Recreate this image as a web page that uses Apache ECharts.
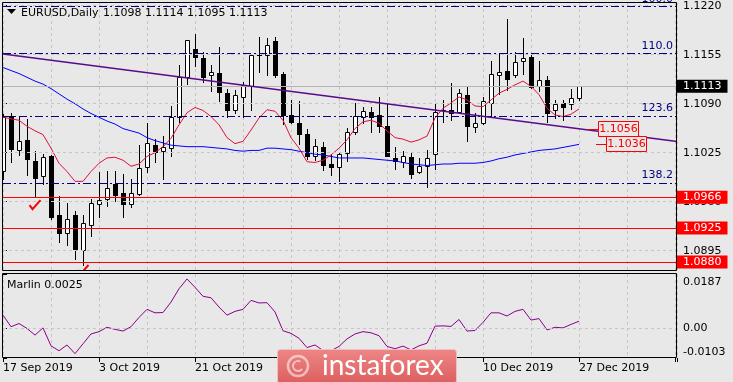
<!DOCTYPE html>
<html><head><meta charset="utf-8">
<script src="https://cdn.jsdelivr.net/npm/echarts@6/dist/echarts.min.js"></script>
<style>html,body{margin:0;padding:0;background:#e8e8e8}#c{width:733px;height:382px}</style>
</head><body><div id="c"></div>
<script>
// ---- data ----
const dateLabels = ['17 Sep 2019','3 Oct 2019','21 Oct 2019','6 Nov 2019','22 Nov 2019','10 Dec 2019','27 Dec 2019'];
const dateLabelBars = [0,12,24,36,48,60,72];
const open  = [1.1001,1.1074,1.1028,1.1042,1.1014,1.0994,1.1021,1.0942,1.0919,1.0942,1.0896,1.0929,1.0957,1.0963,1.0983,1.0972,1.0957,1.0970,1.1006,1.1035,1.1027,1.1031,1.1073,1.1125,1.1163,1.1151,1.1128,1.1131,1.1104,1.1081,1.1099,1.1113,1.1155,1.1155,1.1173,1.1129,1.1075,1.1065,1.1050,1.1021,1.1033,1.1010,1.1006,1.1024,1.1053,1.1072,1.1079,1.1075,1.1060,1.1018,1.1013,1.1019,1.0999,1.1008,1.1023,1.1081,1.1082,1.1079,1.1102,1.1059,1.1064,1.1091,1.1128,1.1133,1.1128,1.1146,1.1152,1.1114,1.1122,1.1081,1.1091,1.1089,1.1098];
const high  = [1.1076,1.1077,1.1074,1.1070,1.1027,1.1023,1.1022,1.0968,1.0958,1.0948,1.0942,1.0964,1.0999,1.1001,1.1001,1.0997,1.0990,1.1035,1.1064,1.1043,1.1047,1.1087,1.1141,1.1175,1.1182,1.1158,1.1141,1.1165,1.1109,1.1108,1.1119,1.1156,1.1178,1.1177,1.1179,1.1132,1.1095,1.1094,1.1056,1.1043,1.1039,1.1022,1.1026,1.1058,1.1091,1.1085,1.1085,1.1099,1.1091,1.1033,1.1027,1.1025,1.1018,1.1029,1.1091,1.1095,1.1117,1.1109,1.1112,1.1077,1.1099,1.1147,1.1157,1.1202,1.1159,1.1177,1.1157,1.1147,1.1127,1.1095,1.1095,1.1110,1.1114];
const low   = [1.0990,1.1013,1.1022,1.0995,1.0967,1.0983,1.0937,1.0907,1.0903,1.0884,1.0876,1.0914,1.0940,1.0954,1.0961,1.0940,1.0953,1.0969,1.1000,1.1013,1.0990,1.1021,1.1066,1.1116,1.1140,1.1119,1.1107,1.1094,1.1073,1.1077,1.1073,1.1081,1.1132,1.1128,1.1125,1.1063,1.1064,1.1037,1.1016,1.1015,1.1002,1.0995,1.0988,1.1014,1.1050,1.1064,1.1053,1.1052,1.1020,1.1004,1.1006,1.0992,1.0998,1.0980,1.1003,1.1066,1.1068,1.1077,1.1040,1.1053,1.1063,1.1072,1.1103,1.1108,1.1125,1.1129,1.1111,1.1107,1.1066,1.1071,1.1068,1.1083,1.1095];
const close = [1.1073,1.1030,1.1041,1.1017,1.0992,1.1019,1.0940,1.0919,1.0937,1.0897,1.0932,1.0958,1.0962,1.0978,1.0969,1.0957,1.0972,1.1005,1.1038,1.1026,1.1032,1.1072,1.1125,1.1174,1.1152,1.1126,1.1132,1.1105,1.1081,1.1101,1.1115,1.1155,1.1154,1.1168,1.1128,1.1075,1.1066,1.1050,1.1021,1.1034,1.1009,1.1006,1.1023,1.1052,1.1074,1.1080,1.1073,1.1060,1.1021,1.1014,1.1021,1.0997,1.1008,1.1018,1.1079,1.1082,1.1077,1.1104,1.1060,1.1064,1.1094,1.1130,1.1132,1.1123,1.1145,1.1150,1.1112,1.1121,1.1078,1.1089,1.1086,1.1098,1.1113];
const maFast = [1.1072,1.1070,1.1068,1.1060,1.1054,1.1049,1.1031,1.1011,1.1000,1.0987,1.0987,1.1000,1.1011,1.1018,1.1019,1.1015,1.1007,1.1010,1.1020,1.1025,1.1033,1.1044,1.1062,1.1078,1.1085,1.1081,1.1073,1.1062,1.1045,1.1037,1.1040,1.1055,1.1071,1.1082,1.1080,1.1068,1.1045,1.1031,1.1013,1.1012,1.1015,1.1022,1.1031,1.1042,1.1057,1.1066,1.1068,1.1064,1.1054,1.1045,1.1043,1.1039,1.1042,1.1047,1.1071,1.1084,1.1091,1.1099,1.1095,1.1087,1.1086,1.1095,1.1104,1.1109,1.1115,1.1120,1.1113,1.1102,1.1084,1.1075,1.1073,1.1076,1.1083];
const maSlow = [1.1138,1.1134,1.1130,1.1125,1.1120,1.1116,1.1110,1.1103,1.1096,1.1090,1.1083,1.1077,1.1072,1.1067,1.1063,1.1057,1.1054,1.1051,1.1045,1.1041,1.1038,1.1035,1.1034,1.1033,1.1033,1.1033,1.1032,1.1031,1.1030,1.1028,1.1027,1.1028,1.1028,1.1031,1.1031,1.1030,1.1029,1.1027,1.1025,1.1023,1.1022,1.1020,1.1018,1.1018,1.1018,1.1018,1.1017,1.1016,1.1015,1.1014,1.1012,1.1010,1.1009,1.1008,1.1009,1.1010,1.1010,1.1011,1.1011,1.1011,1.1012,1.1014,1.1017,1.1019,1.1022,1.1024,1.1026,1.1028,1.1029,1.1030,1.1032,1.1034,1.1036];
const marlin = [0.0045,0.0005,0.0016,-0.0001,-0.0024,0.0001,-0.0061,-0.0078,-0.0058,-0.0088,-0.0054,-0.0020,-0.0012,0.0003,-0.0004,-0.0010,0.0005,0.0037,0.0065,0.0053,0.0054,0.0090,0.0136,0.0170,0.0141,0.0110,0.0105,0.0073,0.0045,0.0058,0.0065,0.0096,0.0087,0.0088,0.0056,-0.0009,-0.0018,-0.0035,-0.0067,-0.0058,-0.0077,-0.0078,-0.0063,-0.0037,-0.0020,-0.0012,-0.0016,-0.0026,-0.0063,-0.0071,-0.0062,-0.0075,-0.0061,-0.0052,0.0007,0.0008,0.0006,0.0030,-0.0010,-0.0008,0.0020,0.0053,0.0053,0.0042,0.0058,0.0065,0.0028,0.0033,-0.0006,0.0003,0.0001,0.0013,0.0024];
const priceTicks = [1.1220,1.1155,1.1090,1.1025,1.0960,1.0895];
const marlinTicks = [0.0187,0,-0.0103];
const fibLevels = [1.1219,1.1157,1.1074,1.0985];
const fibLabels = ['100.0','110.0','123.6','138.2'];
const supportLevels = [1.0966,1.0925,1.0880];
const lastPrice = 1.1113;
const trendX = [0,84.25];
const trendY = [1.1156,1.1040];
const checkX = [4,10];
const checkY = [1.0956,1.0870];
const tagX = [73.1,74.1];
const tagY = [1.1056,1.1036];
const tagText = ['1.1056','1.1036'];
const headerSymbol = 'EURUSD,Daily';
const headerOHLC = '1.1098 1.1114 1.1095 1.1113';
const marlinTitle = 'Marlin 0.0025';

// ---- chart ----
const FONT = '"DejaVu Sans", sans-serif';
const X_MAX = 84.25;
const chart = echarts.init(document.getElementById('c'), null, {renderer:'canvas'});
const gridDash = {color:'#c6c6c6', type:[3,3], width:1};

function candleItem(params, api){
  const k = api.value(0);
  const o = api.coord([k, api.value(1)]), c = api.coord([k, api.value(2)]);
  const l = api.coord([k, api.value(3)]), h = api.coord([k, api.value(4)]);
  const col = Math.floor(o[0] + 1e-6);
  const xm = col + 0.5;
  const yT = Math.round(Math.min(o[1], c[1])), yB = Math.round(Math.max(o[1], c[1]));
  const yH = Math.round(h[1]), yL = Math.round(l[1]);
  const bull = api.value(2) >= api.value(1);
  const ch = [{type:'line', shape:{x1:xm,y1:yH,x2:xm,y2:yL+1}, style:{stroke:'#000',lineWidth:1}}];
  if (bull) ch.push({type:'rect', shape:{x:col-1.5,y:yT+0.5,width:4,height:Math.max(yB-yT,0)}, style:{fill:'#fff',stroke:'#000',lineWidth:1}});
  else ch.push({type:'rect', shape:{x:col-2,y:yT,width:5,height:Math.max(yB-yT+1,1)}, style:{fill:'#000'}});
  return {type:'group', children:ch};
}
function checkItem(params, api){
  const p = api.coord([api.value(0), api.value(1)]);
  return {type:'polyline', shape:{points:[[p[0]-5.5,p[1]+0.5],[p[0]-2.5,p[1]+4.5],[p[0]+5.5,p[1]-4.5]]},
    style:{stroke:'#ff0000',lineWidth:2,fill:null}};
}
function tagItem(params, api){
  const p = api.coord([api.value(0), api.value(1)]);
  const x = Math.round(p[0]), y = Math.round(p[1]);
  return {type:'group', children:[
    {type:'line', shape:{x1:x,y1:y+0.5,x2:x+10,y2:y+0.5}, style:{stroke:'#ff0000',lineWidth:1}},
    {type:'rect', shape:{x:x+10.5,y:y-7.5,width:40,height:15}, style:{fill:'#e8e8e8',stroke:'#ff0000',lineWidth:1}},
    {type:'text', style:{x:x+30.5,y:y+0.5,text:tagText[params.dataIndex],fill:'#ff0000',font:'11px '+FONT,align:'center',verticalAlign:'middle'}}
  ]};
}

const option = {
  animation:false,
  backgroundColor:'#e8e8e8',
  textStyle:{fontFamily:FONT},
  grid:[
    {left:3, top:3, width:674, height:267, show:false},
    {left:3, top:274, width:674, height:84, show:false}
  ],
  xAxis:[
    {gridIndex:0, type:'value', min:0, max:X_MAX, interval:6, axisLine:{show:false}, axisTick:{show:false}, axisLabel:{show:false}, splitLine:{show:true, lineStyle:gridDash}},
    {gridIndex:1, type:'value', min:0, max:X_MAX, interval:6, position:'top', axisLine:{show:false}, axisTick:{show:false}, axisLabel:{show:false}, splitLine:{show:true, lineStyle:gridDash}},
    {gridIndex:1, type:'value', min:0, max:X_MAX, interval:12, position:'bottom', axisLine:{show:false},
      axisTick:{show:true, length:4, lineStyle:{color:'#000'}}, splitLine:{show:false},
      axisLabel:{show:true, margin:5, align:'left', color:'#000', fontSize:11, fontFamily:FONT, showMinLabel:true, showMaxLabel:true,
        formatter:v=>{const i=dateLabelBars.indexOf(Math.round(v)); return (i>=0 && Math.abs(v-Math.round(v))<1e-6)?dateLabels[i]:'';}}}
  ],
  yAxis:[
    {gridIndex:0, type:'value', position:'right', min:1.086938, max:1.122358, axisLine:{show:false}, splitLine:{show:false},
      axisTick:{show:true, length:4, customValues:priceTicks, lineStyle:{color:'#000'}},
      axisLabel:{customValues:priceTicks, margin:6, color:'#000', fontSize:11, fontFamily:FONT, formatter:v=>v.toFixed(4)}},
    {gridIndex:1, type:'value', position:'right', min:-0.0103, max:0.0187, axisLine:{show:false}, splitLine:{show:false},
      axisTick:{show:true, length:4, customValues:marlinTicks, lineStyle:{color:'#000'}},
      axisLabel:{customValues:marlinTicks, margin:6, color:'#000', fontSize:11, fontFamily:FONT,
        verticalAlignMaxLabel:'bottom', verticalAlignMinLabel:'top',
        rich:{t:{padding:[3,0,0,0], fontSize:11, fontFamily:FONT, color:'#000'}},
        formatter:v=>Math.abs(v)<1e-9?'0.00':(v>0?'{t|'+v.toFixed(4)+'}':v.toFixed(4))}}
  ],
  series:[
    {type:'line', xAxisIndex:0, yAxisIndex:0, data:[], z:1, silent:true,
      markLine:{silent:true, precision:6, symbol:'none', label:{show:false}, lineStyle:gridDash, data:priceTicks.map(v=>({yAxis:v}))}},
    {type:'line', xAxisIndex:1, yAxisIndex:1, data:[], z:1, silent:true,
      markLine:{silent:true, precision:6, symbol:'none', label:{show:false}, lineStyle:gridDash, data:[{yAxis:0}]}},
    {type:'line', xAxisIndex:0, yAxisIndex:0, data:[], z:1, silent:true,
      markLine:{silent:true, precision:6, symbol:'none', lineStyle:{color:'#b4b4b4', type:'solid', width:1},
        label:{show:true, position:'end', distance:0, color:'#fff', backgroundColor:'#000', padding:[1,6,1,6], fontSize:11, fontFamily:FONT, formatter:p=>p.value.toFixed(4)},
        data:[{yAxis:lastPrice}]}},
    {type:'line', xAxisIndex:0, yAxisIndex:0, data:[], z:2, silent:true,
      markLine:{silent:true, precision:6, symbol:'none', lineStyle:{color:'#000080', type:[8,3,2,3], width:1},
        label:{show:true, position:'insideEndTop', distance:[4,2], color:'#000080', fontSize:11, fontFamily:FONT, formatter:'{b}'},
        data:fibLevels.map((v,i)=>({yAxis:v, name:fibLabels[i]}))}},
    {type:'line', xAxisIndex:0, yAxisIndex:0, data:[], z:2, silent:true,
      markLine:{silent:true, precision:6, symbol:'none', lineStyle:{color:'#ff0000', type:'solid', width:1},
        label:{show:true, position:'end', distance:0, color:'#fff', backgroundColor:'#ff0000', padding:[1,6,1,6], fontSize:11, fontFamily:FONT, formatter:p=>p.value.toFixed(4)},
        data:supportLevels.map(v=>({yAxis:v}))}},
    {type:'custom', name:'EURUSD', xAxisIndex:0, yAxisIndex:0, z:3, clip:true, renderItem:candleItem,
      encode:{x:0, y:[1,2,3,4]}, data:open.map((o,i)=>[i,o,close[i],low[i],high[i]])},
    {type:'line', xAxisIndex:0, yAxisIndex:0, z:4, showSymbol:false, symbol:'none', silent:true,
      lineStyle:{color:'#0000ff', width:1}, data:maSlow.map((v,i)=>[i,v])},
    {type:'line', xAxisIndex:0, yAxisIndex:0, z:4, showSymbol:false, symbol:'none', silent:true,
      lineStyle:{color:'#e0103a', width:1}, data:maFast.map((v,i)=>[i,v])},
    {type:'line', xAxisIndex:0, yAxisIndex:0, z:5, showSymbol:false, symbol:'none', silent:true, clip:true,
      lineStyle:{color:'#5a0a8a', width:1.5}, data:trendX.map((x,i)=>[x,trendY[i]])},
    {type:'custom', xAxisIndex:0, yAxisIndex:0, z:6, clip:true, renderItem:tagItem, encode:{x:0,y:1}, data:tagX.map((x,i)=>[x,tagY[i]])},
    {type:'custom', xAxisIndex:0, yAxisIndex:0, z:6, clip:true, renderItem:checkItem, encode:{x:0,y:1}, data:checkX.map((x,i)=>[x,checkY[i]])},
    {type:'line', xAxisIndex:1, yAxisIndex:1, z:4, showSymbol:false, symbol:'none', silent:true,
      lineStyle:{color:'#8b008b', width:1}, data:marlin.map((v,i)=>[i,v])}
  ],
  graphic:[
    {type:'rect', z:50, silent:true, shape:{x:2.5,y:2.5,width:674,height:268}, style:{fill:null, stroke:'#000', lineWidth:1}},
    {type:'rect', z:50, silent:true, shape:{x:2.5,y:273.5,width:674,height:84}, style:{fill:null, stroke:'#000', lineWidth:1}},
    {type:'polygon', z:50, silent:true, shape:{points:[[7,9],[16,9],[11.5,14]]}, style:{fill:'#000'}},
    {type:'text', z:50, silent:true, style:{x:21, y:13, text:headerSymbol, font:'11px '+FONT, fill:'#000', verticalAlign:'middle'}},
    {type:'text', z:50, silent:true, style:{x:103, y:13, text:headerOHLC, font:'11px '+FONT, fill:'#000', verticalAlign:'middle'}},
    {type:'text', z:50, silent:true, style:{x:7, y:285, text:marlinTitle, font:'11px '+FONT, fill:'#000', verticalAlign:'middle'}},
    {type:'rect', z:60, silent:true, shape:{x:277.5,y:349.5,width:179,height:34,r:3},
      style:{fill:new echarts.graphic.LinearGradient(0,0,0,1,[{offset:0,color:'#ee8686'},{offset:1,color:'#dc5e5e'}]), stroke:'#f0c0c0', lineWidth:1}},
    {type:'circle', z:61, silent:true, shape:{cx:298,cy:366,r:10}, style:{fill:null, stroke:'rgba(255,255,255,0.55)', lineWidth:2.5}},
    {type:'arc', z:61, silent:true, shape:{cx:298,cy:366,r:5,startAngle:0.6,endAngle:5.2}, style:{fill:null, stroke:'rgba(255,255,255,0.55)', lineWidth:2}},
    {type:'text', z:61, silent:true, style:{x:322, y:366, text:'instaforex', font:'28px Lato, sans-serif', fill:'#ffffff', verticalAlign:'middle'}}
  ]
};
chart.setOption(option);
</script></body></html>
